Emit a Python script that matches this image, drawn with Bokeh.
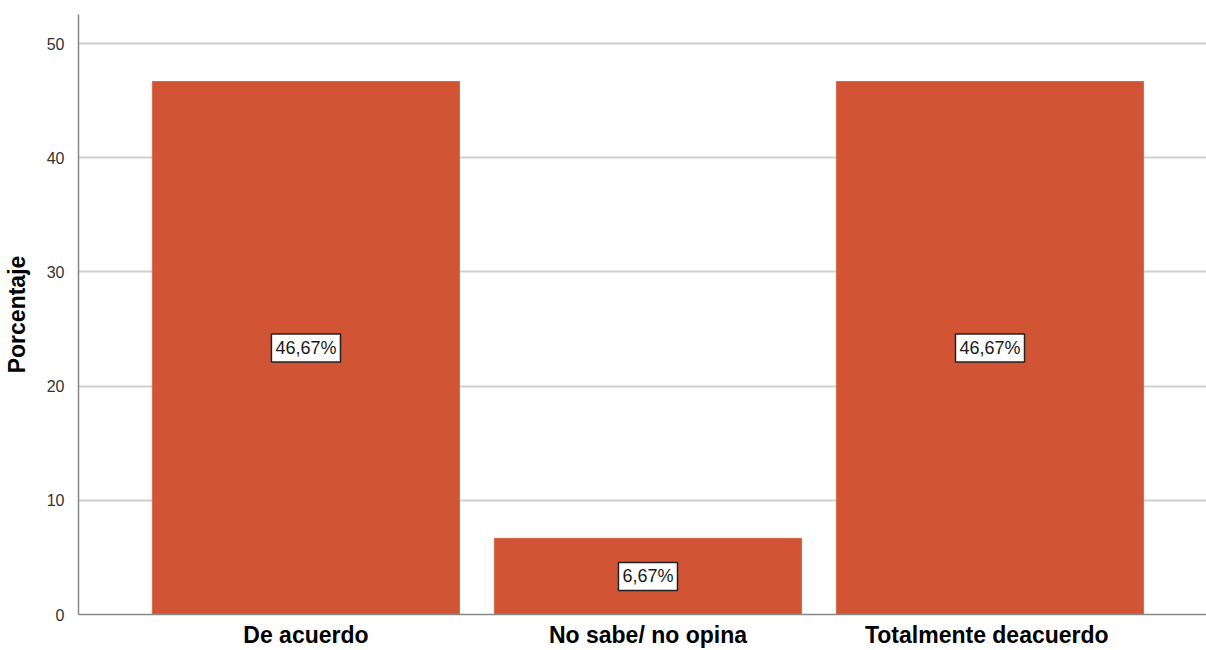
from bokeh.plotting import figure
from bokeh.models import ColumnDataSource, FixedTicker, Label, Range1d
from bokeh.embed import file_html
from bokeh.resources import INLINE

categories = ["De acuerdo", "No sabe/ no opina", "Totalmente  deacuerdo"]
positions = [1, 2, 3]
percentages = [46.67, 6.67, 46.67]
bar_labels = ["46,67%", "6,67%", "46,67%"]
y_ticks = [0, 10, 20, 30, 40, 50]

src = ColumnDataSource(dict(x=positions, top=percentages))

p = figure(width=1206, height=650, output_backend="svg", toolbar_location=None,
           x_range=Range1d(0.335, 3.633), y_range=Range1d(0, 52.54),
           min_border_left=78, min_border_right=0, min_border_top=14,
           min_border_bottom=35)
p.outline_line_color = None
p.background_fill_color = "white"

p.vbar(x="x", top="top", width=0.898, source=src, fill_color="#d15435",
       line_color="#d8674d", line_width=1)

for xv, v, txt in zip(positions, percentages, bar_labels):
    p.add_layout(Label(x=xv, y=v / 2, text=txt,
                       text_align="center", text_baseline="middle",
                       text_font="Liberation Sans", text_font_size="18px",
                       text_color="#1a1a1a",
                       background_fill_color="white",
                       border_line_color="#222222", border_line_width=1.5,
                       padding=4))

p.xaxis.ticker = FixedTicker(ticks=positions)
p.xaxis.major_label_overrides = {pos: c for pos, c in zip(positions, categories)}
p.xaxis.major_label_text_font = "Liberation Sans"
p.xaxis.major_label_text_font_size = "23px"
p.xaxis.major_label_text_font_style = "bold"
p.xaxis.major_label_text_color = "black"
p.xaxis.major_tick_line_color = None
p.xaxis.minor_tick_line_color = None
p.xaxis.major_label_standoff = 1
p.xaxis.axis_line_color = "#888888"
p.xaxis.axis_line_width = 1.5

p.yaxis.ticker = FixedTicker(ticks=y_ticks)
p.yaxis.major_label_text_font = "Liberation Sans"
p.yaxis.major_label_text_font_size = "16px"
p.yaxis.major_label_text_color = "#333333"
p.yaxis.major_tick_line_color = None
p.yaxis.minor_tick_line_color = None
p.yaxis.major_label_standoff = 8
p.yaxis.axis_line_color = "#888888"
p.yaxis.axis_line_width = 1.5
p.yaxis.axis_label = "Porcentaje"
p.yaxis.axis_label_text_font = "Liberation Sans"
p.yaxis.axis_label_text_font_size = "23px"
p.yaxis.axis_label_text_font_style = "bold"
p.yaxis.axis_label_text_color = "black"
p.yaxis.axis_label_standoff = 14

p.xgrid.grid_line_color = None
p.ygrid.grid_line_color = "#cfcfcf"
p.ygrid.grid_line_width = 2

open("out.html", "w").write(file_html(p, INLINE))
